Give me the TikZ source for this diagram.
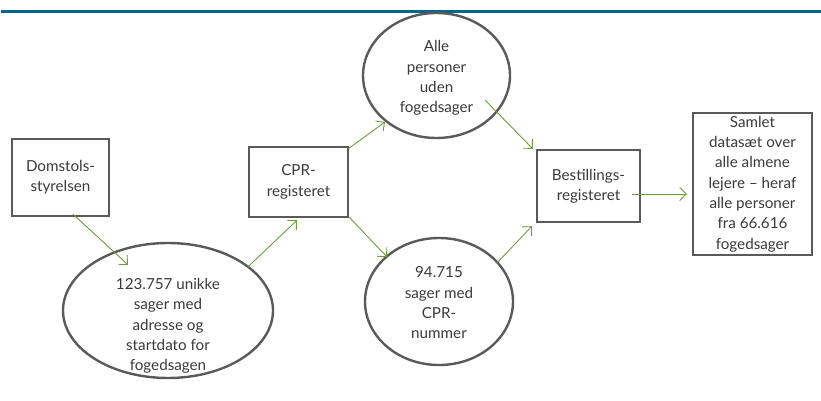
\documentclass[tikz,border=0pt]{standalone}
\usepackage{fontspec}
\setmainfont{Lato}
\usetikzlibrary{shapes.geometric,arrows.meta,calc}
\definecolor{topblue}{HTML}{00658F}
\definecolor{boxgray}{HTML}{5A5A5A}
\definecolor{txtgray}{HTML}{3A3A3A}
\definecolor{arrgreen}{HTML}{6E9E3C}
\begin{document}
\begin{tikzpicture}[x=1pt,y=-1pt,
  txt/.style={text=txtgray,font=\fontsize{15.2}{20.3}\selectfont,align=center,inner sep=0pt},
  boxn/.style={txt,draw=boxgray,line width=2.4pt,rectangle},
  elln/.style={txt,draw=boxgray,line width=2.4pt,ellipse,inner sep=0pt},
  conn/.style={draw=arrgreen,line width=0.9pt,-{Straight Barb[length=6.5pt,width=13pt,line width=0.9pt]}}]
\useasboundingbox (0,0) rectangle (821,401);
\draw[topblue,line width=3pt] (1,11.5) -- (821,11.5);
\node[boxn,minimum width=97pt,minimum height=77pt] (dom) at (60.5,177.5) {Domstols-\\styrelsen};
\node[boxn,minimum width=99pt,minimum height=70pt] (cpr) at (298.5,182) {CPR-\\registeret};
\node[elln,minimum width=210pt,minimum height=135pt] (e1) at (168,310.5) {};
\node[txt] (e1t) at (168,326) {123.757 unikke\\sager med\\adresse og\\startdato for\\fogedsagen};
\node[elln,minimum width=147pt,minimum height=125pt] (alle) at (436.5,75.5) {};
\node[txt] (allet) at (436.5,78) {Alle\\personer\\uden\\fogedsager};
\node[elln,minimum width=148pt,minimum height=127pt] (e94) at (439,301.5) {};
\node[txt] (e94t) at (439,303) {94.715\\sager med\\CPR-\\nummer};
\node[boxn,minimum width=103pt,minimum height=72pt] (best) at (588.5,186) {Bestillings-\\registeret};
\node[boxn,minimum width=119pt,minimum height=142pt] (sam) at (752.5,184) {Samlet\\datasæt over\\alle almene\\lejere – heraf\\alle personer\\fra 66.616\\fogedsager};
\draw[conn] ($(dom.south)+(12.5,-3)$) -- ($(e1.north)+(-40,23)$);
\draw[conn] ($(e1.north)+(80,25)$) -- ($(cpr.south)+(-1.5,2)$);
\draw[conn] ($(cpr.north east)+(-1,3)$) -- ($(alle.center)+(-51.5,46.5)$);
\draw[conn] ($(cpr.south east)+(0,-1)$) -- ($(e94.center)+(-52,-44.5)$);
\draw[conn] ($(alle.center)+(48.5,24.5)$) -- ($(best.north west)+(-3,0)$);
\draw[conn] ($(e94.center)+(58,-38.5)$) -- ($(best.south west)+(-4,3)$);
\draw[conn] ($(best.east)+(-9,8)$) -- ($(sam.west)+(-5,10)$);
\end{tikzpicture}
\end{document}
